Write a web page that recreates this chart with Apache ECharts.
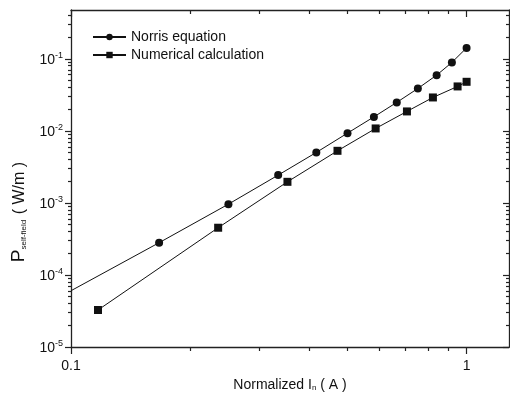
<!DOCTYPE html>
<html><head><meta charset="utf-8">
<script src="https://cdn.jsdelivr.net/npm/echarts@6/dist/echarts.min.js"></script>
<style>html,body{margin:0;padding:0;background:#fff}#c{width:510px;height:403px}</style></head>
<body><div id="c"></div>
<script>
// Data
const norrisX = [0.1, 0.167, 0.250, 0.334, 0.417, 0.500, 0.583, 0.666, 0.753, 0.840, 0.918, 1.0];
const norrisY = [6.04e-5, 2.80e-4, 9.6e-4, 2.43e-3, 5.01e-3, 9.29e-3, 0.0156, 0.0248, 0.0387, 0.0592, 0.0889, 0.1416];
const numX = [0.117, 0.2355, 0.3525, 0.4717, 0.589, 0.7067, 0.822, 0.949, 1.0];
const numY = [3.26e-5, 4.52e-4, 1.96e-3, 5.28e-3, 0.01079, 0.01858, 0.02904, 0.0413, 0.0479];
const seriesNames = ['Norris equation', 'Numerical calculation'];
const xMajorTicks = [0.1, 1];
const xTickLabels = ['0.1', '1'];
const xMinorTicks = [0.2, 0.3, 0.4, 0.5, 0.6, 0.7, 0.8, 0.9];
const yMajorTicks = [1e-5, 1e-4, 1e-3, 1e-2, 1e-1];
const yTickExponents = ['-5', '-4', '-3', '-2', '-1'];
const yMinorTicks = [];
[1e-5, 1e-4, 1e-3, 1e-2, 1e-1].forEach(d => { for (let k = 2; k <= 9; k++) { const v = +(k * d).toPrecision(3); if (v < 0.475) yMinorTicks.push(v); } });

const X_MIN = 0.1, X_MAX = 1.28, Y_MIN = 1e-5, Y_MAX = 0.475;
const FONT = 'Liberation Sans';
const AX = '#222';

function xAxis(pos, ticks, len, inside, line, label) {
  return {
    type: 'log', logBase: 10, min: X_MIN, max: X_MAX, position: pos,
    axisLine: { show: line, lineStyle: { color: AX, width: 1.3 } },
    axisTick: { show: true, customValues: ticks, length: len, inside: inside, lineStyle: { color: AX, width: 1.2 } },
    axisLabel: label ? {
      show: true, customValues: xMajorTicks, margin: 12, color: '#111', fontFamily: FONT, fontSize: 14,
      formatter: v => xTickLabels[xMajorTicks.findIndex(t => Math.abs(Math.log10(t) - Math.log10(v)) < 1e-6)] || ''
    } : { show: false },
    splitLine: { show: false }
  };
}
function yAxis(pos, ticks, len, inside, line, label) {
  return {
    type: 'log', logBase: 10, min: Y_MIN, max: Y_MAX, position: pos,
    axisLine: { show: line, lineStyle: { color: AX, width: 1.3 } },
    axisTick: { show: true, customValues: ticks, length: len, inside: inside, lineStyle: { color: AX, width: 1.2 } },
    axisLabel: label ? {
      show: true, customValues: yMajorTicks, margin: 8, color: '#111', fontFamily: FONT,
      formatter: v => {
        const i = yMajorTicks.findIndex(t => Math.abs(Math.log10(t) - Math.log10(v)) < 1e-6);
        return i < 0 ? '' : '{b|10}{s|' + yTickExponents[i] + '}';
      },
      rich: {
        b: { fontSize: 14, fontFamily: FONT, color: '#111', verticalAlign: 'bottom', lineHeight: 16 },
        s: { fontSize: 9, fontFamily: FONT, color: '#111', verticalAlign: 'top', lineHeight: 16, padding: [0, 0, 8, 0] }
      }
    } : { show: false },
    splitLine: { show: false }
  };
}

const chart = echarts.init(document.getElementById('c'));
chart.setOption({
  animation: false,
  backgroundColor: '#fff',
  grid: { left: 71, right: 1, top: 10, bottom: 56 },
  legend: {
    orient: 'vertical', left: 92, top: 30, padding: 0, itemGap: 4, itemWidth: 33, itemHeight: 8,
    data: seriesNames,
    textStyle: { fontFamily: FONT, fontSize: 14, color: '#111' }
  },
  xAxis: [
    xAxis('bottom', xMajorTicks, 7, false, true, true),
    xAxis('bottom', xMinorTicks, 4, false, false, false),
    xAxis('top', xMajorTicks, 7, true, true, false),
    xAxis('top', xMinorTicks, 4, true, false, false)
  ],
  yAxis: [
    yAxis('left', yMajorTicks, 6, false, true, true),
    yAxis('left', yMinorTicks, 3, false, false, false),
    yAxis('right', yMajorTicks, 6, true, true, false),
    yAxis('right', yMinorTicks, 3, true, false, false)
  ],
  graphic: [
    {
      type: 'text', x: 17, y: 212, rotation: Math.PI / 2,
      style: {
        text: '{p|P}{s|self-field}{u| ( W/m )}', align: 'center', verticalAlign: 'middle',
        rich: {
          p: { fontSize: 19, fontFamily: FONT, fill: '#111', verticalAlign: 'bottom', lineHeight: 22 },
          s: { fontSize: 8, fontFamily: FONT, fill: '#111', verticalAlign: 'bottom', lineHeight: 22, padding: [4, 1, 0, 0] },
          u: { fontSize: 16, fontFamily: FONT, fill: '#111', verticalAlign: 'bottom', lineHeight: 22 }
        }
      }
    },
    {
      type: 'text', x: 290, y: 383,
      style: {
        text: '{t|Normalized I}{s|n}{t| ( A )}', align: 'center', verticalAlign: 'middle',
        rich: {
          t: { fontSize: 14, fontFamily: FONT, fill: '#111', verticalAlign: 'bottom', lineHeight: 18 },
          s: { fontSize: 8, fontFamily: FONT, fill: '#111', verticalAlign: 'bottom', lineHeight: 18, padding: [5, 0, 0, 0] }
        }
      }
    }
  ],
  series: [
    {
      name: seriesNames[0], type: 'line', xAxisIndex: 0, yAxisIndex: 0,
      symbol: 'circle', symbolSize: 8,
      lineStyle: { color: '#111', width: 1 }, itemStyle: { color: '#111' },
      data: norrisX.map((x, i) => i === 0 ? { value: [x, norrisY[i]], symbol: 'none' } : [x, norrisY[i]])
    },
    {
      name: seriesNames[1], type: 'line', xAxisIndex: 0, yAxisIndex: 0,
      symbol: 'rect', symbolSize: 8,
      lineStyle: { color: '#111', width: 1 }, itemStyle: { color: '#111' },
      data: numX.map((x, i) => [x, numY[i]])
    }
  ]
});
</script></body></html>
